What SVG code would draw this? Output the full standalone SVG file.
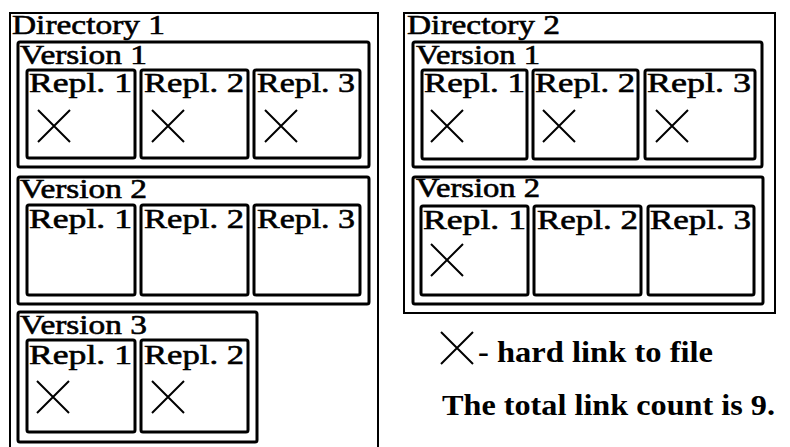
<svg xmlns="http://www.w3.org/2000/svg" width="790" height="447" viewBox="0 0 790 447">
<style>
text{font-family:"Liberation Serif","Times New Roman",serif;fill:#000}
.dir{fill:#fff;stroke:#000;stroke-width:2}
.ver{fill:none;stroke:#000;stroke-width:3}
.rep{fill:none;stroke:#000;stroke-width:3}
.lbl{font-size:28px;stroke:#000;stroke-width:0.6}
.vl{font-size:27px;stroke:#000;stroke-width:0.6}
.sm{font-size:28px;stroke:#000;stroke-width:0.6}
.x{stroke:#000;stroke-width:2;fill:none}
.leg{font-size:29px;font-weight:bold}
</style>
<defs>
<path id="xm" class="x" d="M0,0 L32,32 M32,0 L0,32"/>
</defs>
<rect x="0" y="0" width="790" height="447" fill="#fff"/>

<g id="dir1">
<rect class="dir" x="10" y="13" width="368" height="450"/>
<text class="lbl" x="12" y="34" textLength="153" lengthAdjust="spacingAndGlyphs">Directory 1</text>
</g>
<g id="dir1-v1">
<rect class="ver" x="18" y="42" width="351" height="125" rx="2"/>
<text class="vl" x="20" y="64" textLength="127" lengthAdjust="spacingAndGlyphs">Version 1</text>
</g>
<g id="dir1-v1-r1">
<rect class="rep" x="27" y="70" width="108" height="88" rx="2"/>
<text class="sm" x="29" y="92" textLength="103" lengthAdjust="spacingAndGlyphs">Repl. 1</text>
<use href="#xm" x="38" y="110"/>
</g>
<g id="dir1-v1-r2">
<rect class="rep" x="141" y="70" width="107" height="88" rx="2"/>
<text class="sm" x="144" y="92" textLength="100" lengthAdjust="spacingAndGlyphs">Repl. 2</text>
<use href="#xm" x="152" y="110"/>
</g>
<g id="dir1-v1-r3">
<rect class="rep" x="254" y="70" width="106" height="88" rx="2"/>
<text class="sm" x="257" y="92" textLength="98" lengthAdjust="spacingAndGlyphs">Repl. 3</text>
<use href="#xm" x="265" y="110"/>
</g>

<g id="dir1-v2">
<rect class="ver" x="18" y="177" width="351" height="127" rx="2"/>
<text class="vl" x="20" y="198" textLength="127" lengthAdjust="spacingAndGlyphs">Version 2</text>
</g>
<g id="dir1-v2-r1">
<rect class="rep" x="27" y="205" width="108" height="90" rx="2"/>
<text class="sm" x="29" y="228" textLength="103" lengthAdjust="spacingAndGlyphs">Repl. 1</text>
</g>
<g id="dir1-v2-r2">
<rect class="rep" x="141" y="205" width="107" height="90" rx="2"/>
<text class="sm" x="144" y="228" textLength="100" lengthAdjust="spacingAndGlyphs">Repl. 2</text>
</g>
<g id="dir1-v2-r3">
<rect class="rep" x="254" y="205" width="106" height="90" rx="2"/>
<text class="sm" x="257" y="228" textLength="98" lengthAdjust="spacingAndGlyphs">Repl. 3</text>
</g>

<g id="dir1-v3">
<rect class="ver" x="18" y="312" width="239" height="130" rx="2"/>
<text class="vl" x="20" y="334" textLength="127" lengthAdjust="spacingAndGlyphs">Version 3</text>
</g>
<g id="dir1-v3-r1">
<rect class="rep" x="27" y="340" width="108" height="92" rx="2"/>
<text class="sm" x="29" y="364" textLength="103" lengthAdjust="spacingAndGlyphs">Repl. 1</text>
<use href="#xm" x="37" y="381"/>
</g>
<g id="dir1-v3-r2">
<rect class="rep" x="141" y="340" width="107" height="92" rx="2"/>
<text class="sm" x="144" y="364" textLength="100" lengthAdjust="spacingAndGlyphs">Repl. 2</text>
<use href="#xm" x="152" y="381"/>
</g>

<g id="dir2">
<rect class="dir" x="404" y="13" width="371" height="300"/>
<text class="lbl" x="407" y="34" textLength="153" lengthAdjust="spacingAndGlyphs">Directory 2</text>
</g>
<g id="dir2-v1">
<rect class="ver" x="413" y="42" width="349" height="125" rx="2"/>
<text class="vl" x="416" y="64" textLength="124" lengthAdjust="spacingAndGlyphs">Version 1</text>
</g>
<g id="dir2-v1-r1">
<rect class="rep" x="422" y="70" width="105" height="89" rx="2"/>
<text class="sm" x="424" y="92" textLength="101" lengthAdjust="spacingAndGlyphs">Repl. 1</text>
<use href="#xm" x="431" y="110"/>
</g>
<g id="dir2-v1-r2">
<rect class="rep" x="533" y="70" width="105" height="89" rx="2"/>
<text class="sm" x="535" y="92" textLength="100" lengthAdjust="spacingAndGlyphs">Repl. 2</text>
<use href="#xm" x="543" y="110"/>
</g>
<g id="dir2-v1-r3">
<rect class="rep" x="645" y="70" width="110" height="89" rx="2"/>
<text class="sm" x="647" y="92" textLength="104" lengthAdjust="spacingAndGlyphs">Repl. 3</text>
<use href="#xm" x="656" y="110"/>
</g>

<g id="dir2-v2">
<rect class="ver" x="413" y="177" width="350" height="127" rx="2"/>
<text class="vl" x="416" y="197" textLength="124" lengthAdjust="spacingAndGlyphs">Version 2</text>
</g>
<g id="dir2-v2-r1">
<rect class="rep" x="421" y="206" width="107" height="89" rx="2"/>
<text class="sm" x="423" y="229" textLength="103" lengthAdjust="spacingAndGlyphs">Repl. 1</text>
<use href="#xm" x="431" y="244"/>
</g>
<g id="dir2-v2-r2">
<rect class="rep" x="534" y="206" width="107" height="89" rx="2"/>
<text class="sm" x="537" y="229" textLength="101" lengthAdjust="spacingAndGlyphs">Repl. 2</text>
</g>
<g id="dir2-v2-r3">
<rect class="rep" x="648" y="206" width="106" height="89" rx="2"/>
<text class="sm" x="650" y="229" textLength="101" lengthAdjust="spacingAndGlyphs">Repl. 3</text>
</g>

<g id="legend">
<use href="#xm" x="441" y="332"/>
<text class="leg" x="478" y="362" textLength="235" lengthAdjust="spacingAndGlyphs">- hard link to file</text>
<text class="leg" x="442" y="415" textLength="333" lengthAdjust="spacingAndGlyphs">The total link count is 9.</text>
</g>
<g id="connectors"></g>
</svg>
